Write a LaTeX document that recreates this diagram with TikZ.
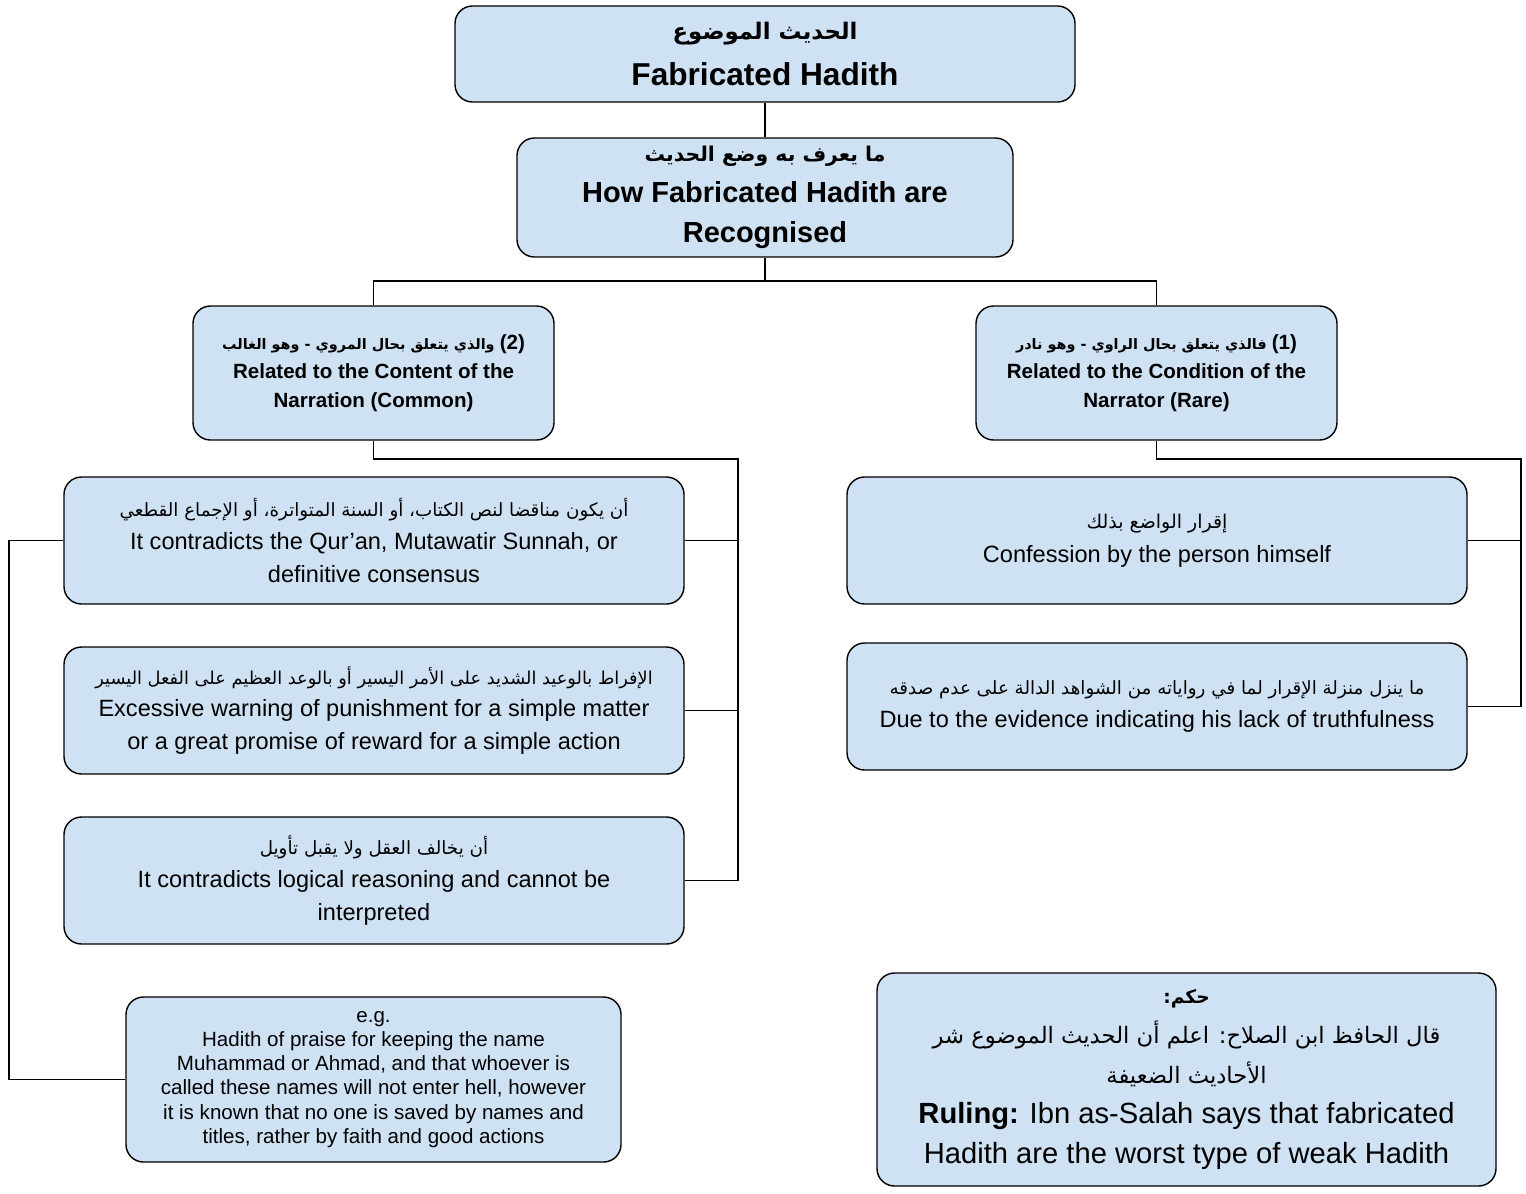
\documentclass[tikz,border=0pt]{standalone}
\usepackage{fontspec}
\setmainfont{Liberation Sans}
\newfontfamily\arabicfont[Script=Arabic]{DejaVu Sans}
\TeXXeTstate=1
\usepackage{xcolor}
\definecolor{boxblue}{HTML}{CFE2F3}
\newcommand{\arline}[2][10.4]{{\arabicfont\fontsize{#1}{#1}\selectfont\beginR #2\endR}}
\newcommand{\numtag}[1]{\beginL{\rmfamily\bfseries\fontsize{11.7}{11.7}\selectfont #1}\endL}

\begin{document}
\begin{tikzpicture}[
  box/.style={draw, line width=0.8pt, fill=boxblue, rounded corners=0.35cm, align=center, inner sep=2pt},
  link/.style={line width=0.8pt}
]
%\draw[step=1cm,gray,very thin] (0,0) grid (30.52,-23.86); %background grid
\useasboundingbox (0,0) rectangle (30.52,-23.86);

\node[box, minimum width=12.4cm, minimum height=1.92cm, font=\fontsize{18}{26}\selectfont\bfseries] (top) at (15.3,-1.08)
  {\arline[13]{الحديث الموضوع}\\Fabricated Hadith};
\node[box, minimum width=9.92cm, minimum height=2.38cm, font=\fontsize{16.5}{23}\selectfont\bfseries] (recog) at (15.3,-3.95)
  {\arline[11.6]{ما يعرف به وضع الحديث}\\How Fabricated Hadith are\\Recognised};

\node[box, minimum width=7.22cm, minimum height=2.68cm, font=\fontsize{11.7}{16.4}\selectfont\bfseries] (cat2) at (7.47,-7.46)
  {\arline[8.2]{\numtag{(2)} والذي يتعلق بحال المروي - وهو الغالب}\\Related to the Content of the\\Narration (Common)};
\node[box, minimum width=7.22cm, minimum height=2.68cm, font=\fontsize{11.7}{16.4}\selectfont\bfseries] (cat1) at (23.13,-7.46)
  {\arline[8.2]{\numtag{(1)} فالذي يتعلق بحال الراوي - وهو نادر}\\Related to the Condition of the\\Narrator (Rare)};

\node[box, minimum width=12.4cm, minimum height=2.54cm, font=\fontsize{13.4}{18.7}\selectfont] (l1) at (7.48,-10.81)
  {\arline{أن يكون مناقضا لنص الكتاب، أو السنة المتواترة، أو الإجماع القطعي}\\It contradicts the Qur’an, Mutawatir Sunnah, or\\definitive consensus};
\node[box, minimum width=12.4cm, minimum height=2.54cm, font=\fontsize{13.4}{18.7}\selectfont] (l2) at (7.48,-14.21)
  {\arline[10.1]{الإفراط بالوعيد الشديد على الأمر اليسير أو بالوعد العظيم على الفعل اليسير}\\Excessive warning of punishment for a simple matter\\or a great promise of reward for a simple action};
\node[box, minimum width=12.4cm, minimum height=2.54cm, font=\fontsize{13.4}{18.7}\selectfont] (l3) at (7.48,-17.61)
  {\arline{أن يخالف العقل ولا يقبل تأويل}\\It contradicts logical reasoning and cannot be\\interpreted};

\node[box, minimum width=12.4cm, minimum height=2.54cm, font=\fontsize{13.4}{19.3}\selectfont] (r1) at (23.14,-10.81)
  {\arline[10.8]{إقرار الواضع بذلك}\\Confession by the person himself};
\node[box, minimum width=12.4cm, minimum height=2.54cm, font=\fontsize{13.4}{19.3}\selectfont] (r2) at (23.14,-14.13)
  {\arline{ما ينزل منزلة الإقرار لما في رواياته من الشواهد الدالة على عدم صدقه}\\Due to the evidence indicating his lack of truthfulness};

\node[box, minimum width=9.9cm, minimum height=3.3cm, font=\fontsize{11.7}{13.7}\selectfont] (eg) at (7.47,-21.59)
  {e.g.\\Hadith of praise for keeping the name\\Muhammad or Ahmad, and that whoever is\\called these names will not enter hell, however\\it is known that no one is saved by names and\\titles, rather by faith and good actions};

\node[box, minimum width=12.38cm, minimum height=4.26cm, font=\fontsize{16.6}{22.7}\selectfont] (ruling) at (23.73,-21.59)
  {{\bfseries\arline[10.6]{حكم:}}\\\arline[12.9]{قال الحافظ ابن الصلاح: اعلم أن الحديث الموضوع شر}\\\arline[12.9]{الأحاديث الضعيفة}\\\textbf{Ruling:} Ibn as-Salah says that fabricated\\Hadith are the worst type of weak Hadith};

\coordinate (split) at (15.3,-5.62);
\coordinate (lbus) at (14.76,-9.18);
\coordinate (rbus) at (30.42,-9.18);
\coordinate (ebus) at (0.18,-10.81);

\draw[link] (top.south) -- (recog.north);
\draw[link] (recog.south) -- (split) -| (cat2.north);
\draw[link] (split) -| (cat1.north);

\draw[link] (cat2.south) |- (lbus) |- (l3.east);
\draw[link] (l1.east) -- (l1.east -| lbus);
\draw[link] (l2.east) -- (l2.east -| lbus);

\draw[link] (cat1.south) |- (rbus) |- (r2.east);
\draw[link] (r1.east) -- (r1.east -| rbus);

\draw[link] (l1.west) -- (ebus) |- (eg.west);
\end{tikzpicture}
\end{document}
